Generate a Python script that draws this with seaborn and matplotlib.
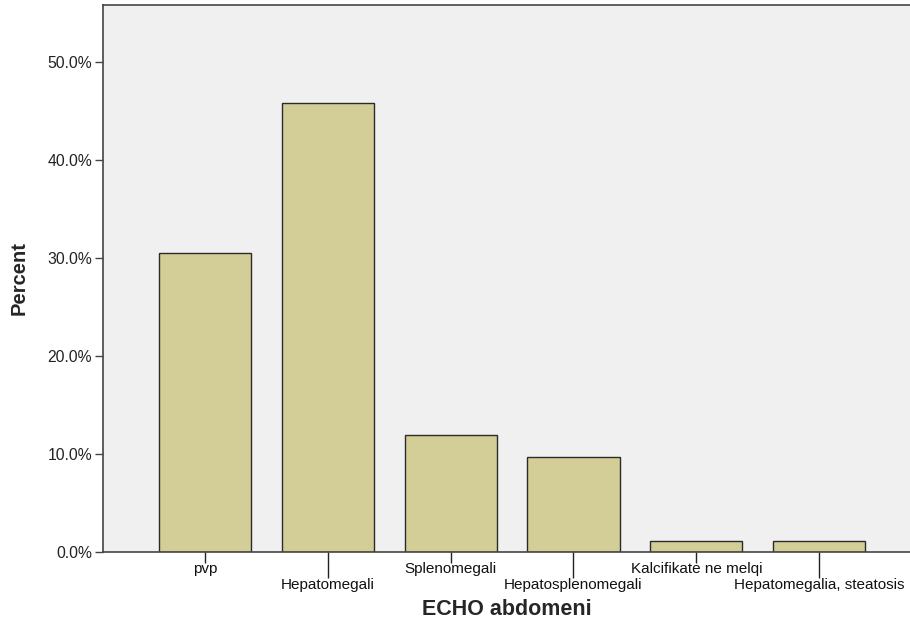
import numpy as np
import pandas as pd
import seaborn as sns
import matplotlib.pyplot as plt
from matplotlib.ticker import FuncFormatter

# data
categories = ['pvp', 'Hepatomegali', 'Splenomegali', 'Hepatosplenomegali',
              'Kalcifikate ne melqi', 'Hepatomegalia, steatosis']
percent = [30.5, 45.8, 11.9, 9.7, 1.1, 1.1]
yticks = [0, 10, 20, 30, 40, 50]

df = pd.DataFrame({'ECHO abdomeni': categories, 'Percent': percent})

sns.set_style('ticks')
plt.rcParams['font.family'] = ['Liberation Sans', 'DejaVu Sans']

fig = plt.figure(figsize=(9.1, 6.27), dpi=100)
ax = fig.add_axes([0.1132, 0.1196, 0.8868, 0.8724])

sns.barplot(data=df, x='ECHO abdomeni', y='Percent', color='#d3ce97',
            edgecolor='#2b2b2b', linewidth=1.0, width=0.75, saturation=1,
            ax=ax)

ax.set_facecolor('#f0f0f0')
ax.set_ylim(0, 55.8)
ax.set_xlim(-0.83, 5.74)
ax.set_yticks(yticks)
ax.yaxis.set_major_formatter(FuncFormatter(lambda v, p: f'{v:.1f}%'))

# staggered category labels like SPSS: even ones on major ticks (short),
# odd ones on minor ticks (long)
pos = np.arange(len(categories))
ax.set_xticks(pos[::2], categories[::2])
ax.set_xticks(pos[1::2], categories[1::2], minor=True)

for side in ['left', 'bottom', 'top']:
    ax.spines[side].set_color('#444444')
    ax.spines[side].set_linewidth(1.2)
ax.spines['right'].set_visible(False)

ax.tick_params(axis='y', length=6, width=1, color='#444444', labelsize=11.3,
               labelcolor='#222222', pad=2)
ax.tick_params(axis='x', which='major', length=8, width=1, color='#222222',
               labelsize=11, labelcolor='#111111', pad=-1)
ax.tick_params(axis='x', which='minor', length=19, width=1, color='#222222',
               labelsize=11, labelcolor='#111111', pad=0)

ax.set_xlabel('ECHO abdomeni', fontsize=15.5, fontweight='bold', labelpad=5)
ax.set_ylabel('Percent', fontsize=14.5, fontweight='bold', labelpad=13)

fig.savefig('out.png', dpi=100)
